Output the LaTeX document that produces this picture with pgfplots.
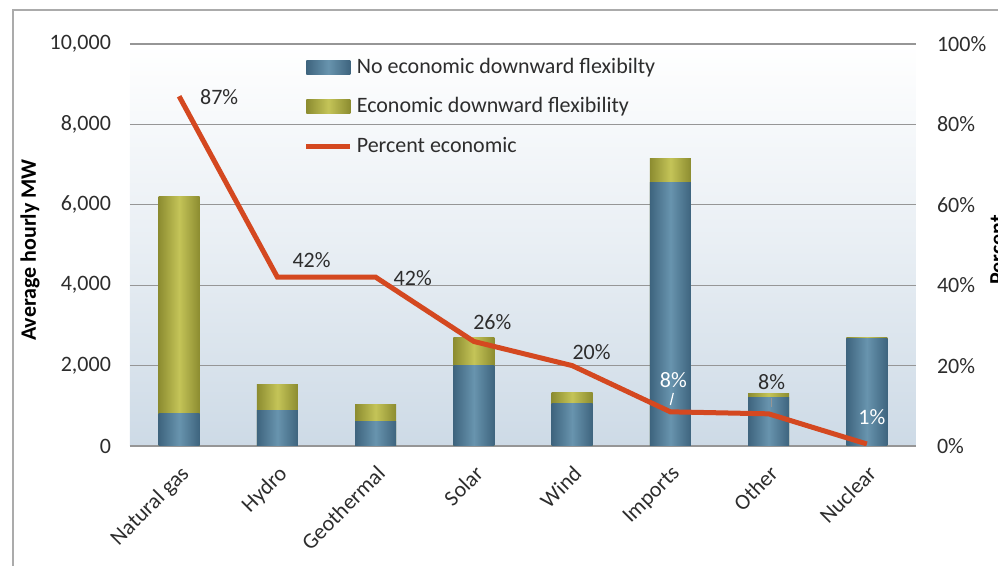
\documentclass[border=0pt]{standalone}
\usepackage{fontspec}
\setmainfont{Carlito}
\usepackage{pgfplots}
\usepackage{pgfplotstable}
\pgfplotsset{compat=1.18}

\definecolor{barblue}{RGB}{62,100,126}
\definecolor{barbluelt}{RGB}{104,148,174}
\definecolor{barolive}{RGB}{140,140,48}
\definecolor{barolivelt}{RGB}{196,196,88}
\definecolor{lineorange}{RGB}{212,72,32}
\definecolor{gridgray}{RGB}{150,150,150}
\definecolor{bgblue}{RGB}{205,218,230}
\definecolor{txt}{RGB}{45,45,45}

% pos, no economic flexibility, total (no econ + economic flexibility)
\pgfplotstableread{
pos noecon total
0   800    6200
1   880    1520
2   600    1040
3   2000   2710
4   1060   1330
5   6560   7160
6   1200   1300
7   2680   2700
}\mwdata

\begin{document}
\begin{tikzpicture}
\pgfplotsset{
  mybase/.style={scale only axis, width=393pt, height=201pt,
    at={(0,0)}, anchor=south west,
    xmin=-0.5, xmax=7.5, ymin=0,
    axis line style={draw=none}, tick style={draw=none},
    /pgf/number format/assume math mode=true,
    ticklabel style={font=\fontsize{11}{13}\selectfont, text=txt}},
  barleg/.style={legend image code/.code={
    \draw[##1, draw=none] (0pt,-3.5pt) rectangle (22pt,3.5pt);}},
  lineleg/.style={legend image code/.code={
    \draw[##1] (0pt,0pt) -- (22pt,0pt);}},
  bluebar/.style={draw=none, left color=barblue, right color=barblue, middle color=barbluelt},
  olivebar/.style={draw=none, left color=barolive, right color=barolive, middle color=barolivelt},
}
\begin{axis}[mybase, ymax=10000, ybar, bar width=20.5pt,
  ytick={0,2000,...,10000}, ymajorgrids, scaled y ticks=false,
  grid style={gridgray, line width=0.6pt},
  /pgf/number format/1000 sep={,},
  yticklabel style={xshift=-6pt},
  xtick={0,...,7},
  xticklabels={Natural gas, Hydro, Geothermal, Solar, Wind, Imports, Other, Nuclear},
  xticklabel style={rotate=45, anchor=north east},
  axis background/.style={top color=white, bottom color=bgblue, middle color=white!55!bgblue},
  legend style={at={(0.213,0.985)}, anchor=north west, draw=none, fill=none,
    row sep=6.5pt, font=\fontsize{11}{13}\selectfont, text=txt},
  legend cell align=left,
]
\pgfplotsinvokeforeach{0,...,7}{
  \addplot[olivebar, bar shift=0pt, forget plot, x filter/.expression={abs(x-#1)<0.1 ? x : nan}]
    table[x=pos, y=total] {\mwdata};
  \addplot[bluebar, bar shift=0pt, forget plot, x filter/.expression={abs(x-#1)<0.1 ? x : nan}]
    table[x=pos, y=noecon] {\mwdata};
}
\addlegendimage{bluebar, barleg}
\addlegendentry{No economic downward flexibilty}
\addlegendimage{olivebar, barleg}
\addlegendentry{Economic downward flexibility}
\addlegendimage{lineorange, line width=2.5pt, lineleg}
\addlegendentry{Percent economic}
\end{axis}

\begin{axis}[mybase, ymax=100, axis x line=none, axis y line*=right,
  ytick={0,20,...,100}, yticklabel={\pgfmathprintnumber{\tick}\%},
  yticklabel style={xshift=7pt}]
\addplot[lineorange, line width=2.5pt]
  coordinates {(0,87) (1,42) (2,42) (3,26) (4,20) (5,8.5) (6,8) (7,0.5)};
\begin{scope}[every node/.style={anchor=west, font=\fontsize{11}{13}\selectfont, text=txt, inner sep=0pt}]
\node at (axis cs:0.21,86.8) {87\%};
\node at (axis cs:1.15,46.3) {42\%};
\node at (axis cs:2.18,41.8) {42\%};
\node at (axis cs:2.99,30.8) {26\%};
\node at (axis cs:4.0,23.4) {20\%};
\node[text=white] at (axis cs:4.89,16.4) {8\%};
\node at (axis cs:5.89,15.9) {8\%};
\node[text=white] at (axis cs:6.91,7.2) {1\%};
\end{scope}
\draw[white, line width=0.6pt] (axis cs:5.0,10.2) -- (axis cs:5.03,13.2);
\draw[gridgray, line width=0.6pt] (axis cs:6.03,9.7) -- (axis cs:6.03,11.9);
\end{axis}

\node[rotate=90, font=\bfseries\fontsize{11}{13}\selectfont, text=black] at (-50pt,98pt) {Average hourly MW};
\node[rotate=90, anchor=north, font=\bfseries\fontsize{11}{13}\selectfont, text=black, inner sep=0pt] at (430pt,98pt) {Percent};
\draw[gridgray!80, line width=0.6pt] (-58.5pt,-60pt) -- (-58.5pt,218pt) -- (434pt,218pt);
\pgfresetboundingbox
\useasboundingbox (-65pt,-60pt) rectangle (434pt,223pt);
\end{tikzpicture}
\end{document}
